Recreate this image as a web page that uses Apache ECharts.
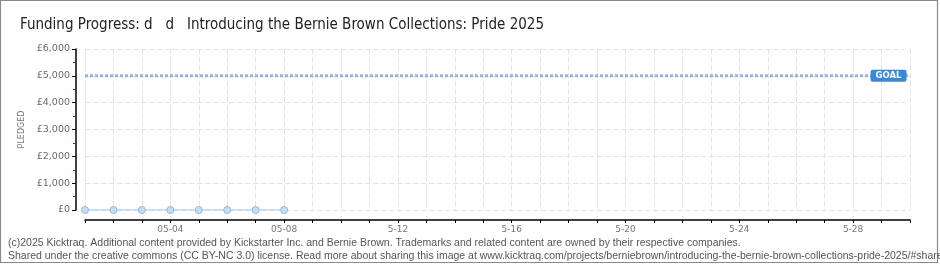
<!DOCTYPE html>
<html>
<head>
<meta charset="utf-8">
<script src="https://cdn.jsdelivr.net/npm/echarts@6/dist/echarts.min.js"></script>
<style>
html,body{margin:0;padding:0;background:#fff;}
#c{width:940px;height:270px;}
</style>
</head>
<body>
<div id="c"></div>
<script>
const categories = ['05-01','05-02','05-03','05-04','05-05','05-06','05-07','05-08','5-09','5-10',
  '5-11','5-12','5-13','5-14','5-15','5-16','5-17','5-18','5-19','5-20',
  '5-21','5-22','5-23','5-24','5-25','5-26','5-27','5-28','5-29','5-30'];
const pledged = [0,0,0,0,0,0,0,0];
const goalValue = 5000;
const goal = categories.map(() => goalValue);
const titleText = 'Funding Progress: d   d   Introducing the Bernie Brown Collections: Pride 2025';
const footer1 = '(c)2025 Kicktraq. Additional content provided by Kickstarter Inc. and Bernie Brown. Trademarks and related content are owned by their respective companies.';
const footer2 = 'Shared under the creative commons (CC BY-NC 3.0) license. Read more about sharing this image at www.kicktraq.com/projects/berniebrown/introducing-the-bernie-brown-collections-pride-2025/#share';

const chart = echarts.init(document.getElementById('c'), null, {renderer:'canvas'});
const axisFont = 'DejaVu Sans';
chart.setOption({
  animation:false,
  backgroundColor:'#fff',
  title:{
    text:titleText, left:15, top:13,
    textStyle:{fontFamily:'"DejaVu Sans Condensed",sans-serif', fontSize:15, fontWeight:'normal', color:'#222'}
  },
  grid:{left:85, right:30, top:49, bottom:60},
  xAxis:{
    type:'category', data:categories, boundaryGap:false, offset:10,
    axisLine:{onZero:false, lineStyle:{color:'#000', width:1.5}},
    axisTick:{show:true, interval:0, length:3, lineStyle:{color:'#000'}},
    axisLabel:{interval:(i)=> i%4===3, margin:5, color:'#777', fontFamily:axisFont, fontSize:9},
    splitLine:{show:true, interval:0, lineStyle:{color:'#e2e2e2', type:[5,3]}}
  },
  yAxis:{
    type:'value', min:0, max:6000, interval:1000, offset:9,
    name:'PLEDGED', nameLocation:'middle', nameGap:49, nameRotate:90,
    nameTextStyle:{color:'#777', fontFamily:axisFont, fontSize:8, letterSpacing:2},
    axisLine:{show:true, lineStyle:{color:'#000', width:1.5}},
    axisTick:{show:true, length:4, lineStyle:{color:'#000'}},
    minorTick:{show:true, splitNumber:2, length:3, lineStyle:{color:'#e00000'}},
    axisLabel:{margin:6, color:'#6a6a6a', fontFamily:axisFont, fontSize:9.5,
      formatter:(v)=> '£' + v.toLocaleString('en-GB')},
    splitLine:{show:true, lineStyle:{color:'#e2e2e2', type:[5,3]}}
  },
  series:[
    {
      type:'line', data:goal, symbol:'none', silent:true, z:2,
      lineStyle:{color:'#94b6e0', width:3, type:[3,2]},
      markPoint:{
        symbol:'rect', symbolSize:0,
        data:[{coord:[28, goalValue]}],
        label:{show:true, formatter:'GOAL', position:'inside', offset:[7,0],
          color:'#fff', backgroundColor:'#3b88d8', padding:[2,5,1,5], borderRadius:2,
          fontFamily:axisFont, fontSize:8.5, fontWeight:'bold'}
      }
    },
    {
      type:'line', data:pledged, symbol:'circle', symbolSize:7, z:3,
      itemStyle:{color:'#c6ddf7', borderColor:'#95b5dd', borderWidth:1},
      lineStyle:{color:'#b8d4f2', width:1.5}
    }
  ],
  graphic:[
    {type:'rect', shape:{x:0.5, y:0.5, width:937, height:262}, style:{fill:null, stroke:'#8a8a8a', lineWidth:1.2}, silent:true, z:-1},
    {type:'text', left:8, top:237.5, style:{text:footer1, fill:'#555', font:'10.5px "Liberation Sans", sans-serif'}},
    {type:'text', left:8, top:251, style:{text:footer2, fill:'#555', font:'10.5px "Liberation Sans", sans-serif'}}
  ]
});
</script>
</body>
</html>
